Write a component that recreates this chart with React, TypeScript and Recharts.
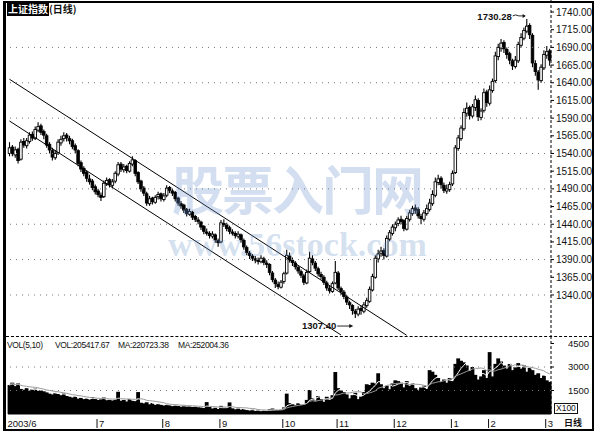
import React from "react";
import {
  ComposedChart,
  Bar,
  Line,
  XAxis,
  YAxis,
  ReferenceLine,
  ReferenceDot,
} from "recharts";

// 上证指数 日线 2003/6 - 2004/3，每根K线的开高低收
const OPEN = [
  1540, 1549, 1538, 1546, 1532, 1557, 1551, 1557, 1567, 1561,
  1573, 1579, 1571, 1565, 1553, 1544, 1534, 1541, 1555, 1561,
  1566, 1561, 1558, 1551, 1544, 1527, 1519, 1513, 1504, 1501,
  1493, 1487, 1481, 1479, 1497, 1503, 1495, 1501, 1511, 1525,
  1517, 1522, 1515, 1525, 1530, 1513, 1501, 1491, 1483, 1469,
  1477, 1471, 1479, 1483, 1475, 1481, 1492, 1487, 1485, 1477,
  1469, 1467, 1461, 1454, 1457, 1451, 1446, 1443, 1437, 1429,
  1427, 1423, 1425, 1417, 1415, 1441, 1439, 1435, 1429, 1427,
  1423, 1425, 1417, 1407, 1399, 1395, 1391, 1389, 1387, 1391,
  1385, 1383, 1371, 1361, 1355, 1351, 1359, 1371, 1395, 1389,
  1385, 1379, 1373, 1367, 1357, 1373, 1391, 1385, 1377, 1369,
  1365, 1357, 1349, 1345, 1357, 1371, 1349, 1344, 1337, 1329,
  1325, 1317, 1313, 1321, 1317, 1325, 1331, 1347, 1365, 1391,
  1399, 1403, 1395, 1419, 1427, 1435, 1441, 1447, 1445, 1433,
  1447, 1455, 1463, 1461, 1451, 1447, 1455, 1461, 1469, 1481,
  1499, 1505, 1495, 1487, 1489, 1497, 1513, 1547, 1561, 1575,
  1597, 1605, 1593, 1605, 1615, 1591, 1601, 1627, 1611, 1629,
  1643, 1677, 1689, 1697, 1687, 1681, 1671, 1663, 1671, 1693,
  1703, 1713, 1721, 1707, 1667, 1655, 1643, 1661, 1679, 1685,
];

const HIGH = [
  1556, 1552, 1550, 1548, 1560, 1562, 1562, 1570, 1571, 1578,
  1584, 1582, 1574, 1568, 1556, 1548, 1545, 1560, 1565, 1570,
  1569, 1565, 1561, 1554, 1546, 1530, 1522, 1516, 1510, 1504,
  1496, 1490, 1485, 1502, 1506, 1505, 1504, 1515, 1528, 1528,
  1525, 1524, 1529, 1536, 1532, 1515, 1503, 1494, 1486, 1480,
  1479, 1481, 1486, 1485, 1484, 1495, 1494, 1490, 1487, 1479,
  1473, 1469, 1463, 1462, 1459, 1453, 1450, 1445, 1439, 1434,
  1430, 1430, 1427, 1420, 1446, 1447, 1442, 1438, 1433, 1430,
  1430, 1427, 1420, 1410, 1402, 1398, 1395, 1393, 1396, 1394,
  1389, 1385, 1374, 1364, 1359, 1361, 1373, 1404, 1400, 1393,
  1388, 1382, 1376, 1370, 1376, 1401, 1396, 1388, 1380, 1373,
  1368, 1360, 1353, 1359, 1388, 1374, 1352, 1347, 1340, 1332,
  1327, 1320, 1324, 1325, 1330, 1336, 1352, 1370, 1396, 1404,
  1408, 1406, 1424, 1432, 1440, 1444, 1450, 1452, 1447, 1452,
  1460, 1466, 1468, 1464, 1455, 1460, 1468, 1476, 1488, 1506,
  1510, 1508, 1499, 1496, 1500, 1516, 1552, 1566, 1580, 1604,
  1612, 1608, 1610, 1622, 1618, 1604, 1632, 1630, 1636, 1646,
  1684, 1695, 1702, 1700, 1690, 1684, 1674, 1678, 1698, 1710,
  1718, 1730.28, 1724, 1710, 1672, 1658, 1666, 1686, 1692, 1688,
];

const LOW = [
  1536, 1536, 1534, 1526, 1530, 1548, 1547, 1554, 1558, 1559,
  1570, 1566, 1560, 1548, 1540, 1530, 1531, 1538, 1551, 1557,
  1557, 1553, 1546, 1540, 1522, 1514, 1508, 1500, 1496, 1488,
  1482, 1478, 1473, 1477, 1494, 1492, 1491, 1498, 1508, 1514,
  1513, 1512, 1513, 1522, 1508, 1497, 1486, 1480, 1466, 1466,
  1468, 1469, 1475, 1472, 1472, 1478, 1484, 1480, 1472, 1466,
  1462, 1456, 1451, 1452, 1446, 1443, 1440, 1432, 1426, 1424,
  1420, 1420, 1414, 1408, 1413, 1436, 1430, 1426, 1424, 1420,
  1420, 1414, 1404, 1396, 1391, 1388, 1385, 1383, 1385, 1382,
  1378, 1368, 1358, 1350, 1348, 1349, 1356, 1369, 1386, 1381,
  1376, 1370, 1364, 1354, 1355, 1371, 1382, 1374, 1366, 1362,
  1354, 1346, 1342, 1343, 1355, 1347, 1340, 1334, 1326, 1320,
  1312, 1307.4, 1310, 1312, 1314, 1322, 1329, 1345, 1363, 1386,
  1394, 1390, 1393, 1416, 1424, 1430, 1437, 1440, 1430, 1431,
  1444, 1452, 1455, 1448, 1440, 1444, 1452, 1458, 1466, 1478,
  1495, 1490, 1484, 1483, 1486, 1494, 1511, 1544, 1558, 1572,
  1592, 1588, 1590, 1600, 1586, 1587, 1598, 1606, 1608, 1626,
  1640, 1672, 1684, 1682, 1674, 1666, 1658, 1660, 1668, 1690,
  1700, 1710, 1702, 1662, 1650, 1630, 1640, 1658, 1674, 1664,
];

const CLOSE = [
  1548, 1540, 1545, 1530, 1556, 1552, 1558, 1566, 1562, 1574,
  1578, 1570, 1566, 1552, 1545, 1535, 1540, 1556, 1560, 1565,
  1562, 1558, 1550, 1545, 1526, 1518, 1512, 1505, 1500, 1492,
  1486, 1482, 1478, 1498, 1502, 1496, 1500, 1512, 1524, 1518,
  1521, 1516, 1526, 1531, 1512, 1500, 1490, 1484, 1470, 1476,
  1472, 1478, 1482, 1476, 1480, 1491, 1488, 1484, 1476, 1470,
  1466, 1460, 1455, 1458, 1450, 1447, 1444, 1436, 1430, 1428,
  1424, 1426, 1418, 1414, 1442, 1440, 1434, 1430, 1428, 1424,
  1426, 1418, 1408, 1400, 1396, 1392, 1390, 1388, 1392, 1386,
  1384, 1372, 1362, 1356, 1352, 1358, 1370, 1396, 1390, 1386,
  1380, 1374, 1368, 1358, 1372, 1392, 1386, 1378, 1370, 1366,
  1358, 1350, 1346, 1356, 1372, 1350, 1345, 1338, 1330, 1326,
  1318, 1314, 1320, 1318, 1326, 1332, 1348, 1366, 1392, 1398,
  1402, 1396, 1420, 1428, 1436, 1440, 1446, 1444, 1434, 1448,
  1456, 1462, 1460, 1452, 1448, 1456, 1462, 1470, 1482, 1500,
  1504, 1496, 1488, 1490, 1496, 1512, 1548, 1562, 1576, 1598,
  1604, 1594, 1606, 1616, 1592, 1600, 1626, 1612, 1630, 1642,
  1678, 1690, 1696, 1688, 1680, 1672, 1664, 1672, 1694, 1704,
  1714, 1720, 1708, 1668, 1656, 1644, 1662, 1680, 1684, 1672,
];

// 成交量 (x100)
const VOLUME = [
  1850, 2000, 1780, 1950, 1600, 1550, 1650, 1500, 1580, 1620,
  1480, 1520, 1450, 1380, 1300, 1250, 1350, 1280, 1200, 1320,
  1150, 1100, 1050, 1120, 980, 1050, 950, 1000, 920, 1080,
  980, 900, 950, 1050, 880, 920, 860, 950, 1420, 850,
  900, 800, 950, 870, 820, 1400, 720, 680, 750, 620,
  700, 580, 650, 600, 540, 620, 560, 500, 580, 520,
  470, 540, 480, 520, 450, 500, 430, 420, 380, 760,
  450, 350, 400, 320, 520, 420, 380, 740, 360, 300,
  340, 280, 320, 250, 220, 300, 200, 260, 180, 240,
  210, 300, 350, 280, 250, 320, 420, 1300, 700, 620,
  560, 680, 600, 640, 900, 1530, 1000, 850, 1150, 950,
  780, 1100, 900, 1200, 2680, 1650, 1500, 1400, 1250, 1000,
  1200, 1350, 950, 1150, 1400, 1900, 1850, 2000, 1950, 2600,
  1900, 1650, 1800, 1580, 1950, 2150, 2100, 2000, 1700, 2100,
  1800, 1950, 1650, 1550, 1700, 1800, 1600, 2800, 2700, 2500,
  2300, 2050, 2200, 2000, 2300, 2100, 3200, 3550, 3400, 3300,
  3100, 2750, 3000, 2500, 2200, 2400, 2800, 2300, 3950, 2400,
  3200, 3550, 3350, 3100, 2900, 3200, 2800, 3000, 3250, 2900,
  3100, 2700, 2950, 2800, 2500, 2600, 2300, 2450, 2150, 2054,
];

// 月份标签 (K线序号)
const MONTH_AT = [0, 31, 54, 74, 96, 115, 135, 155, 168, 188];
const MONTH_LABELS = ["2003/6", "7", "8", "9", "10", "11", "12", "1", "2", "3"];

const PRICE_TICKS = [
  1340, 1365, 1390, 1415, 1440, 1465, 1490, 1515, 1540, 1565, 1590, 1615,
  1640, 1665, 1690, 1715, 1740,
];
const PRICE_GRID = [1340, 1390, 1440, 1490, 1540, 1590, 1640, 1690];
const VOL_TICKS = [1500, 3000, 4500];
const VOL_GRID = [1500, 3000];

// 下降通道 (起点/终点: 序号, 点位)
const CHANNEL_UPPER = [
  { i: 0, p: 1645 },
  { i: 139, p: 1283 },
];
const CHANNEL_LOWER = [
  { i: 0, p: 1586 },
  { i: 116, p: 1283.5 },
];

const HIGH_MARK = { i: 181, p: 1730.28 };
const LOW_MARK = { i: 121, p: 1307.4 };

const FONT = "'Liberation Sans', Arial, sans-serif";

function avg(arr: number[], end: number, n: number) {
  const from = Math.max(0, end - n + 1);
  let s = 0;
  for (let k = from; k <= end; k++) s += arr[k];
  return s / (end - from + 1);
}

const data = CLOSE.map((c, i) => {
  const up = CHANNEL_UPPER.find((d) => d.i === i);
  const lo = CHANNEL_LOWER.find((d) => d.i === i);
  return {
    i,
    o: OPEN[i],
    h: HIGH[i],
    l: LOW[i],
    c,
    v: VOLUME[i],
    ma5: avg(VOLUME, i, 5),
    ma10: avg(VOLUME, i, 10),
    tu: up ? up.p : null,
    tl: lo ? lo.p : null,
  };
});

// K线：影线 + 实体（阳线空心）
function Candle(props: any) {
  const { x, y, width, height, payload } = props;
  const { o, h, l, c } = payload;
  const top = Math.min(y, y + height);
  const hgt = Math.abs(height);
  const k = h - l > 0 ? hgt / (h - l) : 0;
  const py = (v: number) => top + (h - v) * k;
  const cx = x + width / 2;
  const bw = Math.max(1.8, width * 0.85);
  const bTop = py(Math.max(o, c));
  const bBot = py(Math.min(o, c));
  const up = c >= o;
  return (
    <g>
      <line x1={cx} x2={cx} y1={top} y2={top + hgt} stroke="#000" strokeWidth={1.1} />
      <rect
        x={cx - bw / 2}
        y={bTop}
        width={bw}
        height={Math.max(1.2, bBot - bTop)}
        fill={up ? "#fff" : "#000"}
        stroke="#000"
        strokeWidth={0.9}
      />
    </g>
  );
}

// 成交量柱：略加宽，连成一片
function VolBar(props: any) {
  const { x, y, width, height } = props;
  return <rect x={x - 0.4} y={y} width={width + 0.8} height={height} fill="#000" />;
}

function HighMark({ cx, cy }: any) {
  return (
    <g>
      <text x={cx - 15} y={cy + 1} textAnchor="end" fontSize={9.5} fontWeight="bold" fill="#111" fontFamily={FONT}>
        {HIGH_MARK.p.toFixed(2)}
      </text>
      <path d={`M${cx - 14},${cy - 3} q3,-2 6,0 l6,0`} stroke="#111" fill="none" strokeWidth={0.9} />
      <path d={`M${cx - 1},${cy - 3} l-3,-2 l0,4 z`} fill="#111" />
    </g>
  );
}

function LowMark({ cx, cy }: any) {
  return (
    <g>
      <text x={cx - 19} y={cy + 11} textAnchor="end" fontSize={9.5} fontWeight="bold" fill="#111" fontFamily={FONT}>
        {LOW_MARK.p.toFixed(2)}
      </text>
      <line x1={cx - 18} x2={cx - 5} y1={cy + 8} y2={cy + 8} stroke="#111" strokeWidth={0.9} />
      <path d={`M${cx - 2},${cy + 8} l-4,-2 l0,4 z`} fill="#111" />
    </g>
  );
}

function MonthTick({ x, y, payload }: any) {
  const idx = MONTH_AT.indexOf(payload.value);
  if (idx < 0) return <g />;
  return (
    <g>
      {idx > 0 && <line x1={x - 1} x2={x - 1} y1={y + 3} y2={y + 12} stroke="#111" strokeWidth={1} />}
      <text x={idx > 0 ? x + 1 : x - 2} y={y + 11} fontSize={9.5} fill="#111" fontFamily={FONT}>
        {MONTH_LABELS[idx]}
      </text>
    </g>
  );
}

function VolTick({ x, y, payload }: any) {
  return (
    <text x={x + 12} y={y} dy="0.35em" fontSize={9.5} fill="#111" fontFamily={FONT}>
      {payload.value}
    </text>
  );
}

const abs = (left: number, top: number, extra: React.CSSProperties = {}): React.CSSProperties => ({
  position: "absolute",
  left,
  top,
  whiteSpace: "nowrap",
  lineHeight: 1,
  fontFamily: FONT,
  color: "#111",
  ...extra,
});

export default function App() {
  return (
    <div
      style={{
        position: "absolute",
        left: 0,
        top: 0,
        width: 600,
        height: 435,
        background: "#fff",
        overflow: "hidden",
        fontFamily: FONT,
      }}
    >
      <div style={{ position: "absolute", left: 0, top: 0 }}>
        <ComposedChart
          width={600}
          height={336}
          data={data}
          margin={{ top: 0, right: 0, bottom: 0, left: 8 }}
          barCategoryGap={0}
        >
          <XAxis dataKey="i" type="category" hide />
          <YAxis
            orientation="right"
            width={49}
            domain={[1282, 1757]}
            allowDataOverflow
            ticks={PRICE_TICKS}
            interval={0}
            tickFormatter={(v: number) => v.toFixed(2)}
            tick={{ fontSize: 10, fill: "#111" }}
            tickSize={3}
            tickLine={{ stroke: "#000" }}
            axisLine={{ stroke: "#000", strokeDasharray: "3 2" }}
          />
          {PRICE_GRID.map((p) => (
            <ReferenceLine key={p} y={p} stroke="#777" strokeDasharray="1 5" />
          ))}
          <Bar dataKey={(d: any) => [d.l, d.h]} shape={Candle} isAnimationActive={false} />
          <Line type="linear" dataKey="tu" stroke="#000" strokeWidth={1} dot={false} connectNulls isAnimationActive={false} />
          <Line type="linear" dataKey="tl" stroke="#000" strokeWidth={1} dot={false} connectNulls isAnimationActive={false} />
          <ReferenceDot x={HIGH_MARK.i} y={HIGH_MARK.p} r={0} shape={HighMark} />
          <ReferenceDot x={LOW_MARK.i} y={LOW_MARK.p} r={0} shape={LowMark} />
        </ComposedChart>
      </div>

      <div style={{ position: "absolute", left: 0, top: 336 }}>
        <ComposedChart
          width={600}
          height={99}
          data={data}
          margin={{ top: 0, right: 0, bottom: 0, left: 8 }}
          barCategoryGap={0}
        >
          <XAxis
            dataKey="i"
            type="category"
            interval={0}
            height={21}
            tickSize={0}
            tickLine={false}
            tick={<MonthTick />}
            axisLine={{ stroke: "#000" }}
          />
          <YAxis
            orientation="right"
            width={49}
            domain={[0, 4980]}
            allowDataOverflow
            ticks={VOL_TICKS}
            interval={0}
            tick={<VolTick />}
            tickSize={3}
            tickLine={{ stroke: "#000" }}
            axisLine={{ stroke: "#000", strokeDasharray: "3 2" }}
          />
          {VOL_GRID.map((v) => (
            <ReferenceLine key={v} y={v} stroke="#777" strokeDasharray="1 5" />
          ))}
          <Bar dataKey="v" fill="#000" shape={VolBar} isAnimationActive={false} />
          <Line type="linear" dataKey="ma5" stroke="#fff" strokeWidth={1} dot={false} isAnimationActive={false} />
          <Line type="linear" dataKey="ma10" stroke="#9a9a9a" strokeWidth={1} dot={false} isAnimationActive={false} />
        </ComposedChart>
      </div>

      {/* 水印 */}
      <div style={abs(172, 162, { fontSize: 52, fontWeight: "bold", color: "rgba(110,150,205,0.3)", fontFamily: "'Noto Sans CJK SC', sans-serif", letterSpacing: -2 })}>
        股票入门网
      </div>
      <div style={abs(168, 228, { fontSize: 34, fontWeight: "bold", color: "rgba(110,150,205,0.3)", fontFamily: "'Liberation Serif', serif" })}>
        www.56stock.com
      </div>

      {/* 标题 */}
      <div style={abs(7, 4, { fontSize: 10, fontWeight: "bold", fontFamily: "'Noto Sans CJK SC', sans-serif" })}>
        <span style={{ background: "#000", color: "#fff", padding: "0 1px" }}>上证指数</span>
        <span>(日线)</span>
      </div>

      {/* 成交量指标栏 */}
      <div style={abs(7, 341, { fontSize: 8.5, letterSpacing: -0.4 })}>VOL(5,10)</div>
      <div style={abs(55, 341, { fontSize: 8.5, letterSpacing: -0.4 })}>VOL:205417.67</div>
      <div style={abs(118, 341, { fontSize: 8.5, letterSpacing: -0.4 })}>MA:220723.38</div>
      <div style={abs(178, 341, { fontSize: 8.5, letterSpacing: -0.4 })}>MA:252004.36</div>

      <div style={abs(554, 403, { fontSize: 8.5, border: "1px solid #111", padding: "0 1px", background: "#fff" })}>X100</div>
      <div style={abs(564, 418, { fontSize: 9, fontWeight: "bold", fontFamily: "'Noto Sans CJK SC', sans-serif" })}>日线</div>

      {/* 分隔线与边框 */}
      <div style={{ position: "absolute", left: 6, top: 336, width: 586, borderTop: "1px dashed #000" }} />
      <div
        style={{
          position: "absolute",
          left: 3,
          top: 1,
          width: 591,
          height: 430,
          boxSizing: "border-box",
          borderTop: "2px solid #000",
          borderRight: "2px solid #000",
          borderBottom: "2px solid #000",
          borderLeft: "3px solid #000",
        }}
      />
    </div>
  );
}
